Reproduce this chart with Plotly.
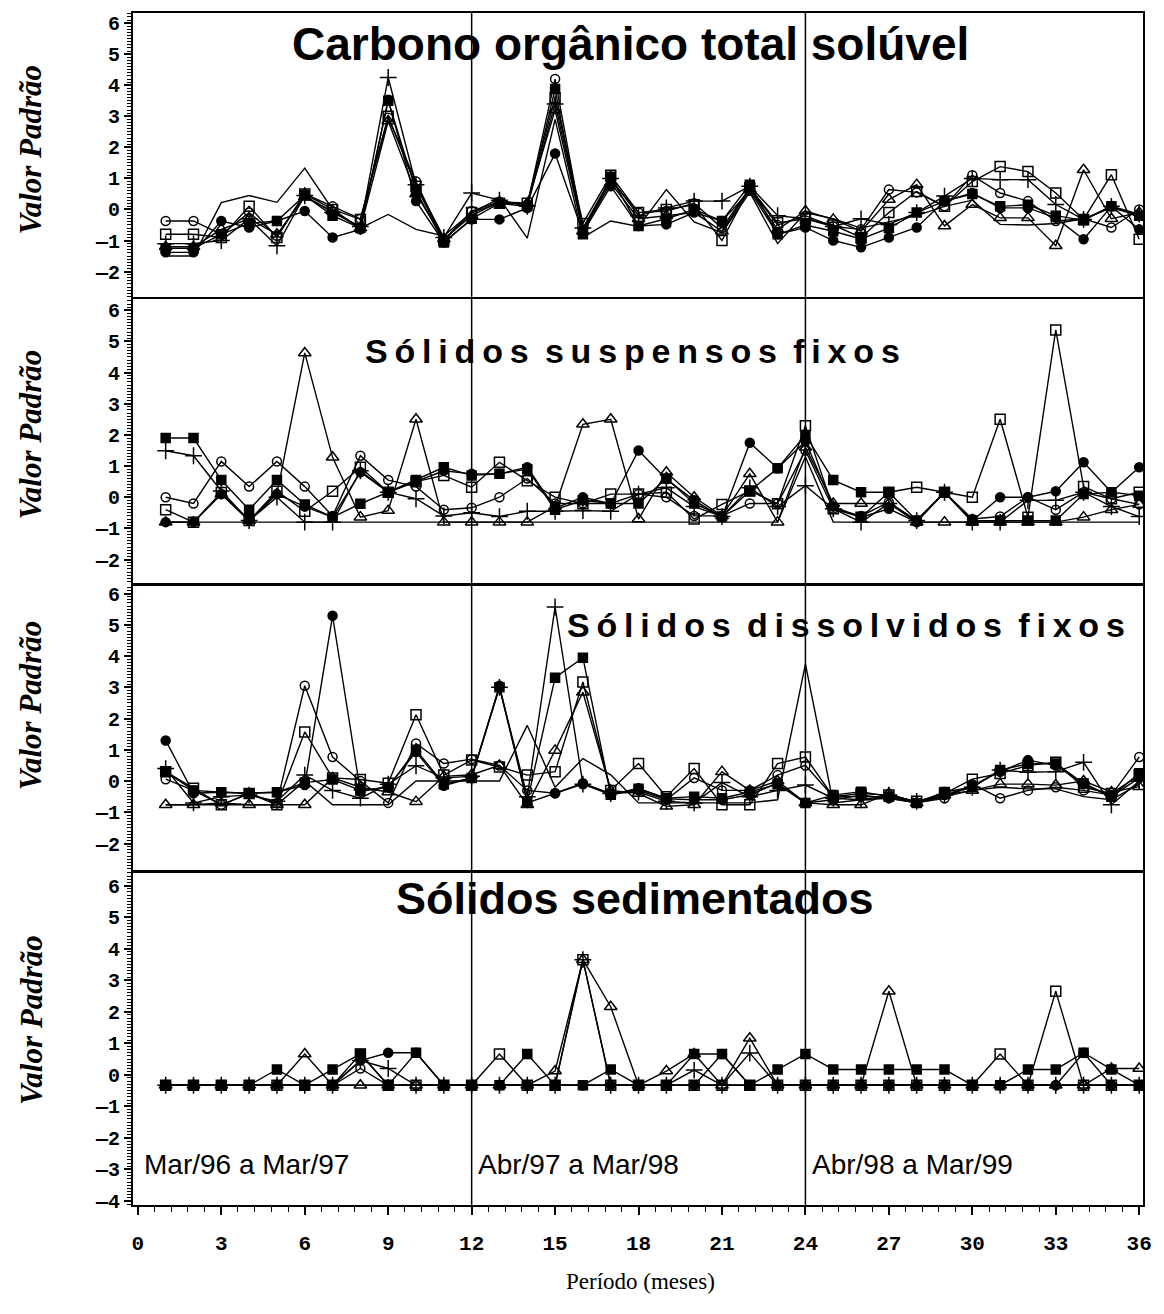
import plotly.graph_objects as go

W, H = 1164, 1314
months = list(range(1, 37))

# ---------------- Carbono orgânico total solúvel ----------------
cot_line = [-1.5, -1.5, 0.22, 0.45, 0.23, 1.33, 0.0, -0.6, -0.16, -0.64, -0.85, -0.1,
            0.35, -0.92, 2.9, -0.9, -0.37, -0.55, 0.64, -0.4, -0.75, 0.55, -1.1, -0.1,
            -0.3, -0.6, -0.4, -0.2, 0.1, 0.3, -0.48, -0.5, -0.45, -0.3, 0.05, -0.2]
cot_circ_open = [-0.37, -0.37, -0.8, -0.1, -0.85, 0.5, 0.1, -0.3, 2.95, 0.9, -1.0, -0.05,
                 0.25, 0.15, 4.2, -0.65, 0.95, -0.1, -0.05, 0.2, -0.6, 0.7, -0.5, -0.2,
                 -0.55, -0.64, 0.64, 0.55, 0.1, 1.1, 0.53, 0.27, -0.37, -0.3, -0.58, 0.0]
cot_circ_fill = [-1.38, -1.38, -0.37, -0.58, -0.37, -0.05, -0.9, -0.64, 3.53, 0.27, -1.06, -0.32,
                 -0.32, 0.05, 1.8, -0.75, 0.75, -0.53, -0.48, -0.1, -0.37, 0.6, -0.8, -0.58,
                 -1.0, -1.22, -0.9, -0.58, 0.27, 0.53, 0.05, 0.05, -0.27, -0.96, 0.1, -0.64]
cot_sq_open = [-0.8, -0.8, -0.9, 0.1, -0.9, 0.5, 0.0, -0.32, 3.0, 0.75, -1.0, -0.1,
               0.2, 0.2, 3.6, -0.45, 1.1, -0.1, 0.0, 0.15, -1.0, 0.7, -0.43, -0.3,
               -0.5, -0.9, -0.1, 0.58, 0.1, 0.9, 1.38, 1.22, 0.53, -0.32, 1.12, -0.96]
cot_sq_fill = [-1.25, -1.25, -0.8, -0.45, -0.37, 0.45, -0.2, -0.6, 3.5, 0.6, -1.06, -0.3,
               0.2, 0.1, 3.88, -0.8, 1.05, -0.53, -0.3, 0.0, -0.37, 0.8, -0.8, -0.5,
               -0.7, -0.95, -0.6, -0.1, 0.27, 0.5, 0.1, 0.15, -0.2, -0.35, 0.1, -0.2]
cot_plus = [-1.1, -1.1, -1.0, -0.3, -1.17, 0.45, -0.1, -0.55, 4.25, 0.8, -0.9, 0.53,
            0.3, 0.1, 3.4, -0.6, 1.0, -0.2, 0.05, 0.27, 0.27, 0.75, -0.2, -0.3,
            -0.55, -0.3, -0.48, -0.1, 0.43, 1.0, 0.96, 0.96, 0.16, -0.32, 0.1, -0.15]
cot_tri = [-1.2, -1.2, -0.64, -0.3, -0.8, 0.4, -0.05, -0.6, 2.85, 0.5, -0.95, -0.2,
           0.25, 0.2, 3.2, -0.7, 0.85, -0.3, -0.2, -0.1, -0.7, 0.65, -0.65, -0.05,
           -0.32, -0.7, 0.32, 0.8, -0.53, 0.16, -0.27, -0.27, -1.17, 1.28, -0.3, -0.1]

# ---------------- Sólidos suspensos fixos ----------------
ssf_line = [-0.8, -0.8, -0.8, -0.8, -0.8, -0.8, -0.8, -0.8, -0.8, -0.8, -0.8, -0.8,
            -0.8, -0.8, -0.8, -0.8, -0.8, -0.8, -0.8, -0.8, -0.8, -0.8, -0.8, 1.3,
            -0.8, -0.8, -0.8, -0.8, -0.8, -0.8, -0.8, -0.8, -0.8, -0.8, -0.8, -0.8]
ssf_circ_open = [0.0, -0.2, 1.15, 0.34, 1.15, 0.34, -0.6, 1.33, 0.55, 0.34, -0.4, -0.34,
                 0.0, 0.6, -0.2, -0.2, -0.2, 0.1, 0.0, -0.6, -0.6, -0.2, -0.2, 1.5,
                 -0.37, -0.6, -0.16, -0.75, 0.16, -0.7, -0.62, 0.0, -0.4, 0.16, -0.05, -0.23]
ssf_circ_fill = [-0.8, -0.8, 0.1, -0.75, 0.1, -0.3, -0.64, 0.8, 0.16, 0.5, 0.85, 0.75,
                 0.75, 0.96, -0.35, 0.0, -0.21, 1.5, 0.58, -0.1, -0.64, 1.75, 0.93, 1.8,
                 -0.3, -0.64, -0.37, -0.8, 0.16, -0.75, 0.0, 0.0, 0.19, 1.12, 0.16, 0.96]
ssf_sq_open = [-0.4, -0.8, 0.15, -0.75, 0.19, -0.45, 0.19, 0.96, 0.16, 0.5, 0.7, 0.32,
               1.12, 0.53, 0.0, -0.21, 0.1, 0.1, 0.16, -0.7, -0.23, 0.2, -0.21, 2.29,
               -0.37, -0.64, 0.16, 0.32, 0.16, 0.0, 2.5, -0.64, 5.37, 0.34, -0.05, 0.16]
ssf_sq_fill = [1.9, 1.9, 0.55, -0.4, 0.55, -0.23, -0.64, -0.21, 0.16, 0.55, 0.96, 0.7,
               0.75, 0.9, -0.4, -0.1, -0.2, -0.2, 0.6, -0.2, -0.62, 0.2, 0.93, 2.0,
               0.55, 0.16, 0.16, -0.75, 0.16, -0.75, -0.75, -0.75, -0.75, 0.1, 0.16, 0.05]
ssf_plus = [1.49, 1.33, 0.2, -0.75, 0.0, -0.8, -0.8, 0.85, 0.16, -0.05, -0.6, -0.5,
            -0.62, -0.45, -0.45, -0.43, -0.45, 0.1, 0.3, -0.3, -0.62, 0.3, -0.3, 0.37,
            -0.37, -0.8, -0.2, -0.75, 0.16, -0.8, -0.8, -0.1, -0.1, 0.16, -0.3, -0.62]
ssf_tri = [-0.8, -0.8, 0.1, -0.75, 0.1, 4.63, 1.28, -0.64, -0.43, 2.5, -0.8, -0.8,
           -0.8, -0.8, -0.3, 2.34, 2.5, -0.7, 0.8, 0.0, -0.6, 0.75, -0.8, 1.6,
           -0.2, -0.2, -0.2, -0.8, -0.8, -0.8, -0.8, -0.8, -0.8, -0.64, -0.4, -0.23]

# ---------------- Sólidos dissolvidos fixos ----------------
sdf_line = [-0.76, -0.76, -0.76, -0.76, -0.76, 0.0, -0.76, -0.76, -0.76, 0.0, 0.0, 0.0,
            0.0, 1.78, -0.2, 0.72, 0.2, -0.7, -0.7, -0.7, -0.7, -0.7, -0.6, 3.74,
            -0.7, -0.6, -0.55, -0.7, -0.5, -0.3, -0.2, -0.25, -0.25, -0.5, -0.6, -0.1]
sdf_circ_open = [0.06, -0.3, -0.76, -0.4, -0.7, 3.05, 0.77, 0.0, -0.7, 1.2, 0.56, 0.7,
                 0.5, -0.3, -0.39, -0.07, -0.4, -0.3, -0.6, 0.1, -0.3, -0.3, 0.19, 0.5,
                 -0.5, -0.5, -0.5, -0.7, -0.55, -0.1, -0.55, -0.3, -0.2, -0.3, -0.45, 0.77]
sdf_circ_fill = [1.3, -0.39, -0.36, -0.39, -0.36, -0.13, 5.29, -0.34, -0.18, 0.93, -0.15, 0.1,
                 3.05, -0.7, -0.39, -0.1, -0.44, -0.23, -0.57, -0.6, -0.6, -0.44, -0.07, -0.7,
                 -0.6, -0.45, -0.55, -0.7, -0.45, -0.15, 0.3, 0.67, 0.5, -0.1, -0.5, 0.1]
sdf_sq_open = [0.3, -0.23, -0.76, -0.4, -0.76, 1.57, 0.1, 0.05, -0.07, 2.12, 0.19, 0.67,
               0.45, 0.19, 0.3, 3.17, -0.3, 0.56, -0.5, 0.4, -0.76, -0.76, 0.56, 0.77,
               -0.5, -0.4, -0.45, -0.65, -0.4, 0.06, 0.24, 0.5, 0.6, -0.2, -0.4, 0.19]
sdf_sq_fill = [0.3, -0.3, -0.36, -0.39, -0.36, -0.05, 0.05, -0.3, -0.2, 1.0, -0.1, 0.1,
               3.0, -0.65, 3.31, 3.95, -0.44, -0.25, -0.55, -0.5, -0.55, -0.35, -0.1, -0.7,
               -0.45, -0.34, -0.5, -0.7, -0.35, -0.2, 0.35, 0.55, 0.56, -0.07, -0.5, 0.25]
sdf_plus = [0.4, -0.7, -0.5, -0.45, -0.65, 0.19, -0.3, -0.55, -0.1, 0.49, 0.1, 0.15,
            3.0, -0.5, 5.57, -0.1, -0.4, -0.35, -0.65, -0.7, -0.05, -0.5, -0.3, -0.13,
            -0.55, -0.6, -0.45, -0.65, -0.45, -0.2, 0.35, 0.28, 0.3, 0.6, -0.76, 0.0]
sdf_tri = [-0.76, -0.76, -0.7, -0.76, -0.76, -0.76, 0.1, -0.2, -0.35, -0.66, 0.15, 0.2,
           0.5, -0.76, 0.98, 2.84, -0.3, -0.4, -0.81, -0.76, 0.3, -0.3, 0.0, -0.7,
           -0.76, -0.76, -0.4, -0.7, -0.45, -0.3, -0.1, -0.1, -0.13, 0.0, -0.35, -0.18]

# ---------------- Sólidos sedimentados ----------------
sse_line = [-0.33] * 36
sse_circ_open = [-0.33, -0.33, -0.33, -0.33, -0.33, -0.33, -0.33, 0.2, -0.33, -0.33, -0.33, -0.33,
                 -0.33, -0.33, -0.33, -0.33, -0.33, -0.33, -0.33, -0.33, -0.33, -0.33, -0.33, -0.33,
                 -0.33, -0.33, -0.33, -0.33, -0.33, -0.33, -0.33, -0.33, -0.33, -0.33, -0.33, -0.33]
sse_circ_fill = [-0.33, -0.33, -0.33, -0.33, -0.33, -0.33, -0.33, 0.45, 0.7, 0.7, -0.33, -0.33,
                 -0.33, -0.33, -0.33, -0.33, -0.33, -0.33, -0.33, -0.33, 0.66, -0.33, -0.33, -0.33,
                 -0.33, -0.33, -0.33, -0.33, -0.33, -0.33, -0.33, -0.33, -0.33, 0.7, -0.33, -0.33]
sse_sq_open = [-0.33, -0.33, -0.33, -0.33, -0.33, -0.33, -0.33, 0.66, -0.33, -0.33, -0.33, -0.33,
               0.66, -0.33, -0.33, 3.65, -0.33, -0.33, -0.33, -0.33, -0.33, -0.33, -0.33, -0.33,
               -0.33, -0.33, -0.33, -0.33, -0.33, -0.33, 0.66, -0.33, 2.65, -0.33, -0.33, -0.33]
sse_sq_fill = [-0.33, -0.33, -0.33, -0.33, 0.17, -0.33, 0.17, 0.66, -0.33, 0.7, -0.33, -0.33,
               -0.33, 0.66, -0.33, -0.33, 0.17, -0.33, -0.33, 0.66, 0.66, -0.33, 0.17, 0.66,
               0.17, 0.17, 0.17, 0.17, 0.17, -0.33, -0.33, 0.17, 0.17, 0.7, 0.17, -0.33]
sse_plus = [-0.33, -0.33, -0.33, -0.33, -0.33, -0.33, -0.33, 0.45, 0.2, -0.33, -0.33, -0.33,
            -0.33, -0.33, -0.33, 3.65, -0.33, -0.33, -0.33, 0.15, -0.33, 0.69, -0.33, -0.33,
            -0.33, -0.33, -0.33, -0.33, -0.33, -0.33, -0.33, -0.33, -0.33, -0.33, -0.33, -0.33]
sse_tri = [-0.33, -0.33, -0.33, -0.33, -0.33, 0.66, -0.33, -0.33, -0.33, -0.33, -0.33, -0.33,
           -0.33, -0.33, 0.12, 3.65, 2.16, -0.33, 0.12, 0.66, -0.33, 1.16, -0.33, -0.33,
           -0.33, -0.33, 2.65, -0.33, -0.33, -0.33, -0.33, -0.33, -0.33, -0.33, 0.2, 0.2]

panel_titles = ["Carbono orgânico total solúvel",
                "Sólidos suspensos fixos",
                "Sólidos dissolvidos fixos",
                "Sólidos sedimentados"]
period_labels = ["Mar/96 a Mar/97", "Abr/97 a Mar/98", "Abr/98 a Mar/99"]
period_starts = [0, 12, 24]
x_ticks = list(range(0, 37, 3))

panels = [
    [cot_line, cot_circ_open, cot_circ_fill, cot_sq_open, cot_sq_fill, cot_plus, cot_tri],
    [ssf_line, ssf_circ_open, ssf_circ_fill, ssf_sq_open, ssf_sq_fill, ssf_plus, ssf_tri],
    [sdf_line, sdf_circ_open, sdf_circ_fill, sdf_sq_open, sdf_sq_fill, sdf_plus, sdf_tri],
    [sse_line, sse_circ_open, sse_circ_fill, sse_sq_open, sse_sq_fill, sse_plus, sse_tri],
]

# marker symbol / size for each series (None = plain line)
series_style = [
    (None, 0),
    ("circle-open", 9),
    ("circle", 9),
    ("square-open", 10),
    ("square", 9),
    ("cross-thin-open", 12),
    ("triangle-up-open", 11),
]

# panel geometry in pixels: (top, bottom) and y-axis range
panel_px = [(12, 298), (300, 587), (588, 877), (878, 1213)]
y_ranges = [(-2.81, 6.33), (-2.77, 6.37), (-2.89, 6.29), (-4.12, 6.42)]
y_lows = [-2, -2, -2, -4]
X_LEFT, X_RIGHT = 133, 1152
x_range = (-0.18, 36.14)


def px_x(p):
    return p / W


def px_y(p):
    return 1 - p / H


def tick_text(v):
    return str(v) if v >= 0 else "—" + str(-v)


fig = go.Figure()
layout = dict(
    width=W, height=H,
    margin=dict(l=0, r=0, t=0, b=0),
    paper_bgcolor="white", plot_bgcolor="white",
    showlegend=False,
)

AXIS_FONT = dict(family="Liberation Mono", size=20, color="black", weight="bold")

for i, series in enumerate(panels):
    n = i + 1
    xa = "x" if n == 1 else f"x{n}"
    ya = "y" if n == 1 else f"y{n}"
    for values, (sym, size) in zip(series, series_style):
        if sym is None:
            fig.add_trace(go.Scatter(x=months, y=values, mode="lines",
                                     line=dict(color="black", width=1.4),
                                     xaxis=xa, yaxis=ya, hoverinfo="skip"))
        else:
            fig.add_trace(go.Scatter(
                x=months, y=values, mode="lines+markers",
                line=dict(color="black", width=1.4),
                marker=dict(symbol=sym, size=size, color="black",
                            line=dict(color="black", width=1.5)),
                xaxis=xa, yaxis=ya, hoverinfo="skip"))

    top, bottom = panel_px[i]
    lo, hi = y_ranges[i]
    yvals = list(range(y_lows[i], 7))
    bottom_panel = n == 4
    layout["xaxis" if n == 1 else f"xaxis{n}"] = dict(
        domain=[px_x(X_LEFT), px_x(X_RIGHT)],
        range=list(x_range), anchor=ya,
        showline=True, mirror=True, linecolor="black", linewidth=1.5,
        showgrid=False, zeroline=False,
        ticks="outside" if bottom_panel else "",
        showticklabels=bottom_panel,
        tickmode="array", tickvals=x_ticks, ticktext=[str(v) for v in x_ticks],
        ticklen=8, tickwidth=1.5, tickcolor="black",
        ticklabelstandoff=10,
        tickfont=dict(family="Liberation Mono", size=21, color="black", weight="bold"),
        minor=dict(ticks="outside" if bottom_panel else "", tickmode="linear",
                   tick0=0, dtick=0.6, ticklen=5, tickwidth=1, tickcolor="black",
                   showgrid=False),
    )
    layout["yaxis" if n == 1 else f"yaxis{n}"] = dict(
        domain=[px_y(bottom), px_y(top)],
        range=[lo, hi], anchor=xa,
        showline=True, mirror=True, linecolor="black", linewidth=1.5,
        showgrid=False, zeroline=False,
        ticks="outside", ticklen=7, tickwidth=1.5, tickcolor="black",
        tickmode="array", tickvals=yvals, ticktext=[tick_text(v) for v in yvals],
        tickfont=AXIS_FONT,
        minor=dict(ticks="outside", tickmode="linear", tick0=0, dtick=0.1,
                   ticklen=4, tickwidth=1, tickcolor="black", showgrid=False),
    )

fig.update_layout(**layout)

# separators between the three annual periods
shapes = []
for n in range(1, 5):
    xa = "x" if n == 1 else f"x{n}"
    ya = "y" if n == 1 else f"y{n}"
    for xv in (12, 24):
        shapes.append(dict(type="line", xref=xa, yref=f"{ya} domain",
                           x0=xv, x1=xv, y0=0, y1=1,
                           line=dict(color="black", width=1.5)))
fig.update_layout(shapes=shapes)

THIN = "\u2009"


def spaced(text):
    words = text.split(" ")
    return (" " + THIN).join(THIN.join(w) for w in words)


annotations = []
title_specs = [
    (panel_titles[0], 635, 43, 46, False),
    (panel_titles[1], 637, 353, 34, True),
    (panel_titles[2], 852, 629, 34, True),
    (panel_titles[3], 639, 904, 45, False),
]
for text, cx, cy, size, wide in title_specs:
    annotations.append(dict(
        text=spaced(text) if wide else text,
        x=px_x(cx), y=px_y(cy), xref="paper", yref="paper",
        xanchor="center", yanchor="middle", showarrow=False,
        font=dict(family="Liberation Sans", size=size, color="black", weight="bold")))

# y-axis titles
for cy in (150, 437, 710, 1027):
    annotations.append(dict(
        text="Valor Padrão", x=px_x(30), y=px_y(cy), xref="paper", yref="paper",
        xanchor="center", yanchor="middle", textangle=-90, showarrow=False,
        font=dict(family="Liberation Serif", size=31, color="black",
                  weight="bold", style="italic")))

# period labels in the bottom panel
for label, start in zip(period_labels, period_starts):
    annotations.append(dict(
        text=label, x=start + 0.15, y=px_y(1172), xref="x4", yref="paper",
        xanchor="left", yanchor="middle", showarrow=False,
        font=dict(family="Liberation Sans", size=28, color="black")))

annotations.append(dict(
    text="Período (meses)", x=px_x(645), y=px_y(1290), xref="paper", yref="paper",
    xanchor="center", yanchor="middle", showarrow=False,
    font=dict(family="Liberation Serif", size=23, color="black")))

fig.update_layout(annotations=annotations)

fig.write_html("out.html")
